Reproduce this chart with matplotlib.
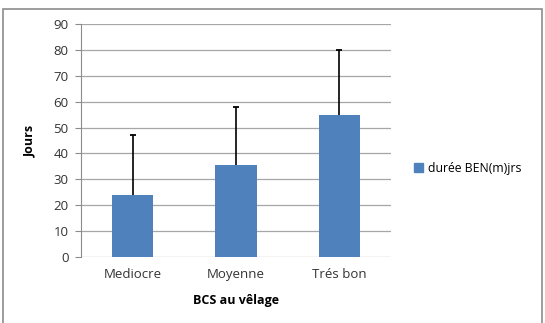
import matplotlib
matplotlib.use('Agg')
import matplotlib.pyplot as plt
from matplotlib.patches import Rectangle, Patch

# data
categories = ['Mediocre', 'Moyenne', 'Trés bon']
means = [24, 35.5, 55]
err_up = [23, 22.5, 25]   # tops at 47, 58, 80
series_name = 'durée BEN(m)jrs'
yticks = list(range(0, 100, 10))

plt.rcParams['font.family'] = ['Open Sans', 'DejaVu Sans']

fig = plt.figure(figsize=(5.45, 3.23), dpi=100)
W, H = 545, 323

# outer chart border
fig.patches.append(Rectangle((3 / W, -0.01), 539 / W, 1 - 9 / H + 0.01,
                             transform=fig.transFigure, fill=False,
                             edgecolor='#8c8c8c', linewidth=1.2))

ax = fig.add_axes([81 / W, 1 - 257 / H, 310 / W, 233 / H])
x = list(range(len(categories)))
ax.bar(x, means, width=0.4, color='#4f81bd', zorder=3, label=series_name)

# upper error only, cap at the top end
tops = [m + e for m, e in zip(means, err_up)]
ax.vlines(x, means, tops, color='black', linewidth=1.2, zorder=4)
ax.plot(x, tops, linestyle='none', marker='_', markersize=5,
        markeredgewidth=1.3, color='black', zorder=4)

ax.set_xlim(-0.5, 2.5)
ax.set_ylim(0, 90)
ax.set_yticks(yticks)
ax.set_xticks(x)
ax.set_xticklabels(categories)
ax.yaxis.grid(True, color='#a6a6a6', linewidth=0.9, zorder=0)
for s in ['top', 'right', 'bottom']:
    ax.spines[s].set_visible(False)
ax.spines['left'].set_color('#8c8c8c')
ax.tick_params(axis='y', length=4, color='#8c8c8c', labelsize=9.5,
               labelcolor='#333333', pad=5)
ax.tick_params(axis='x', length=0, labelsize=9.5, labelcolor='#333333',
               pad=8)

ax.set_xlabel('BCS au vêlage', fontsize=9, fontweight='bold', labelpad=9)
ax.set_ylabel('Jours', fontsize=9, fontweight='bold', labelpad=12)

ax.legend(handles=[Patch(color='#4f81bd', label=series_name)],
          loc='center left', bbox_to_anchor=(1.04, 0.38), frameon=False,
          fontsize=8.8, handlelength=0.7, handleheight=0.7,
          handletextpad=0.4)

fig.savefig('out.png', dpi=100)
